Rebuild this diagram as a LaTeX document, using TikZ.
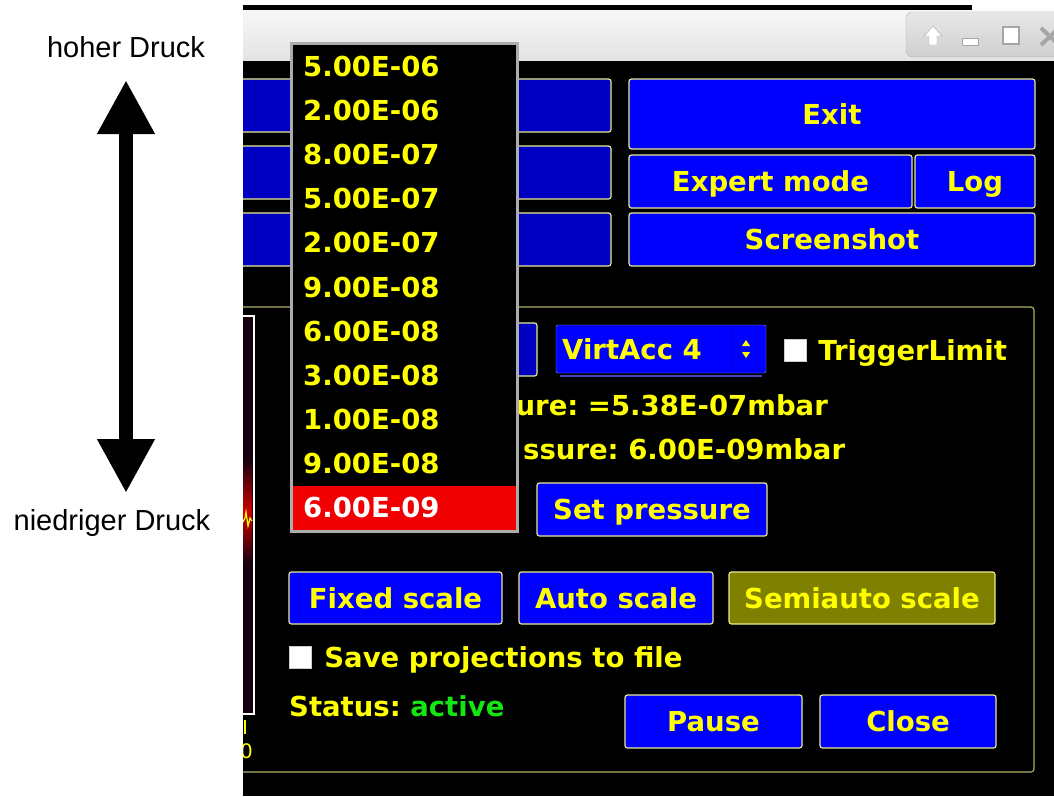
\documentclass[tikz,border=0pt]{standalone}
\usepackage{fontspec}
\newfontfamily\guifont{DejaVu Sans}
\newfontfamily\notefont{Liberation Sans}
\usetikzlibrary{arrows.meta, positioning, calc}
\definecolor{guiBlue}{RGB}{0,0,255}
\definecolor{guiDarkBlue}{RGB}{0,0,195}
\definecolor{guiYellow}{RGB}{255,255,0}
\definecolor{guiBorder}{RGB}{235,235,140}
\definecolor{guiOlive}{RGB}{128,128,0}
\definecolor{guiFrame}{RGB}{175,175,100}
\definecolor{guiGreen}{RGB}{20,230,20}
\definecolor{guiRed}{RGB}{240,0,0}
\definecolor{plotDark}{RGB}{22,0,16}
\frenchspacing

\begin{document}
\begin{tikzpicture}[x=1pt, y=-1pt,
    guitext/.style={text=guiYellow, font=\guifont\bfseries\fontsize{27.5}{30}\selectfont, text height=20pt, text depth=0pt, inner sep=0pt},
    button/.style={guitext, draw=guiBorder, fill=guiBlue, rounded corners=2.5pt, line width=1.2pt, minimum height=53pt},
    oldbutton/.style={draw=guiBorder, fill=guiDarkBlue, rounded corners=2.5pt, line width=1.2pt},
    checkbox/.style={fill=white, draw=gray!40, minimum size=22pt, inner sep=0pt},
    listitem/.style={guitext, anchor=west},
    note/.style={font=\notefont\fontsize{29}{32}\selectfont, text height=21pt, text depth=0pt, inner sep=0pt}]
  \useasboundingbox (0,0) rectangle (1054,796);
  % Pressure direction
  \node[note] (high) at (126,47) {hoher Druck};
  \node[note] (low) at (112,520) {niedriger Druck};
  \coordinate (hightip) at (126,80);
  \coordinate (lowtip) at (126,493);
  \draw[{Triangle[length=54pt, width=54pt]}-{Triangle[length=54pt, width=54pt]}, line width=14pt] (lowtip) -- (hightip);
  % Screenshot
  \begin{scope}
    \clip (243,0) rectangle (1054,796);
    \fill[black] (243,60) rectangle (1054,796);
    \shade[top color=gray!6, bottom color=gray!22] (243,10) rectangle (1054,60);
    \fill[black] (243,5) rectangle (972,10);
    % Window controls
    \shade[top color=gray!18, bottom color=gray!38, draw=gray!55, rounded corners=6pt] (906,12) rectangle (1074,57);
    \filldraw[fill=white, draw=gray!70] (933,26) -- (942,36) -- (937,36) -- (937,45) -- (929,45) -- (929,36) -- (924,36) -- cycle;
    \filldraw[fill=white, draw=gray!70] (962,38) rectangle (978,45);
    \filldraw[fill=white, draw=gray!70, line width=2pt] (1003,27) rectangle (1019,44);
    \draw[gray!70, line width=4pt] (1041,28) -- (1059,45) (1041,45) -- (1059,28);
    % Buttons behind the list
    \draw[oldbutton] (230,79) rectangle (611,132);
    \draw[oldbutton] (230,146) rectangle (611,199);
    \draw[oldbutton] (230,213) rectangle (611,266);
    \node[button, minimum width=406pt, minimum height=70pt] (exit) at (832,114) {Exit};
    \node[button, minimum width=283pt] (expert) at (770.5,181.5) {Expert mode};
    \node[button, minimum width=120pt] (log) at (975,181.5) {Log};
    \node[button, minimum width=406pt] (shot) at (832,239.5) {Screenshot};
    % Panel
    \draw[guiFrame, line width=1.2pt, rounded corners=3pt] (230,307) rectangle (1034,772);
    % Plot remnant
    \fill[plotDark] (200,316) rectangle (254,714);
    \shade[top color=plotDark, bottom color=plotDark, middle color=red!80!black] (200,460) rectangle (252,563);
    \draw[white, line width=2.5pt] (200,316) rectangle (254,714);
    \draw[guiYellow, line width=1.2pt] (243,522) -- (245,518) -- (246,512) -- (248,526) -- (250,518) -- (252,521);
    \draw[guiYellow, line width=2pt] (245,720) -- (245,734);
    \node[text=guiYellow, font=\guifont\fontsize{20}{22}\selectfont, anchor=east, inner sep=0pt] (tickzero) at (253,751) {0};
    % Pressure controls
    \draw[oldbutton] (480,323) rectangle (537,376);
    \filldraw[fill=guiBlue, draw=blue!45!white, rounded corners=2pt] (556,325) rectangle (766,373);
    \draw[guiDarkBlue, line width=1pt] (732,328) -- (732,370);
    \draw[blue!45!gray, line width=1.5pt] (560,376) -- (762,376);
    \node[guitext, anchor=west] (virtacc) at (562,349) {VirtAcc 4};
    \fill[guiYellow] (742,346) -- (750,346) -- (746,340) -- cycle;
    \fill[guiYellow] (742,352) -- (750,352) -- (746,358) -- cycle;
    \node[checkbox] (trigbox) at (795,350.5) {};
    \node[guitext, right=12pt of trigbox] (trigger) {TriggerLimit};
    \node[guitext, anchor=east] (current) at (828,405) {ure: =5.38E-07mbar};
    \node[guitext, anchor=west] (target) at (523,449) {ssure: 6.00E-09mbar};
    \node[button, minimum width=230pt] (setp) at (652,509.5) {Set pressure};
    % Scale buttons
    \node[button, minimum width=213pt, minimum height=52pt] (fixed) at (395.5,598) {Fixed scale};
    \node[button, minimum width=194pt, minimum height=52pt] (auto) at (616,598) {Auto scale};
    \node[button, fill=guiOlive, minimum width=266pt, minimum height=52pt] (semi) at (862,598) {Semiauto scale};
    \node[checkbox] (savebox) at (300,657.5) {};
    \node[guitext, right=13pt of savebox] (save) {Save projections to file};
    \node[guitext, anchor=west] (status) at (289,706) {Status: \textcolor{guiGreen}{active}};
    \node[button, minimum width=177pt] (pause) at (713.5,721.5) {Pause};
    \node[button, minimum width=176pt] (close) at (908,721.5) {Close};
    % Pressure list
    \filldraw[fill=black, draw=gray!65, line width=3pt] (291.5,43.5) rectangle (517.5,531.5);
    \fill[guiRed] (293,486) rectangle (516,530);
    \foreach \val [count=\i] in {5.00E-06, 2.00E-06, 8.00E-07, 5.00E-07, 2.00E-07, 9.00E-08, 6.00E-08, 3.00E-08, 1.00E-08, 9.00E-08}
      \node[listitem] (item\i) at (303,{66.5+44.1*(\i-1)}) {\val};
    \node[listitem, text=white] (item11) at (303,507.5) {6.00E-09};
  \end{scope}
\end{tikzpicture}
\end{document}
